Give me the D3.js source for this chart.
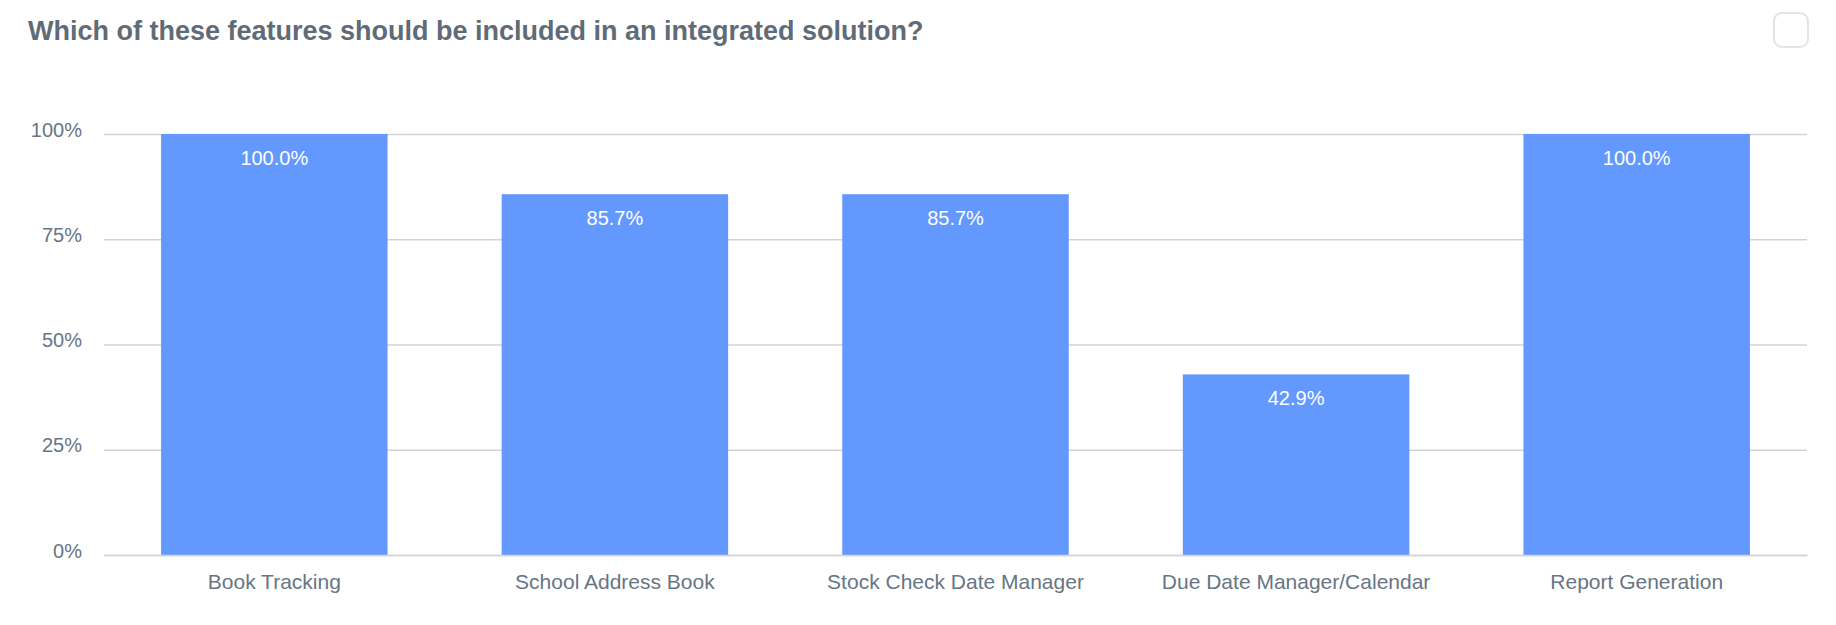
<!DOCTYPE html>
<html><head><meta charset="utf-8">
<script src="https://cdn.jsdelivr.net/npm/d3@7"></script>
<style>html,body{margin:0;padding:0;background:#fff;}svg{display:block;font-family:"Liberation Sans",Arial,sans-serif;}</style>
</head><body>
<svg id="c" width="1836" height="625"></svg>
<script>
const title = "Which of these features should be included in an integrated solution?";
const categories = ["Book Tracking","School Address Book","Stock Check Date Manager","Due Date Manager/Calendar","Report Generation"];
const values = [100.0, 85.7, 85.7, 42.9, 100.0];
const yTicks = [0, 25, 50, 75, 100];

const svg = d3.select("#c");
const m = {left:104, right:1807, top:134, bottom:555};
const x = d3.scaleBand().domain(categories).range([m.left, m.right]).paddingInner(0.335).paddingOuter(0.1675);
const y = d3.scaleLinear().domain([0,100]).range([m.bottom, m.top]);

svg.append("text").attr("x",28).attr("y",40).attr("font-size",27).attr("font-weight","bold").attr("fill","#5f6b76").text(title);
svg.append("rect").attr("x",1774).attr("y",13).attr("width",34).attr("height",34).attr("rx",8).attr("fill","none").attr("stroke","#e2e4e8").attr("stroke-width",2);

const yAxis = svg.append("g").attr("transform",`translate(${m.left},0)`)
  .call(d3.axisLeft(y).tickValues(yTicks).tickFormat(d=>d+"%").tickSize(-(m.right-m.left)).tickPadding(22));
yAxis.select(".domain").remove();
yAxis.selectAll("line").attr("stroke","#d3d3d3").attr("stroke-width",1.5);
yAxis.selectAll("text").attr("font-size",20).attr("fill","#677584").attr("font-family","Liberation Sans, Arial, sans-serif").attr("dy","2px");

svg.selectAll("rect.bar").data(values).join("rect").attr("class","bar")
  .attr("x",(d,i)=>x(categories[i])).attr("width",x.bandwidth())
  .attr("y",d=>y(d)).attr("height",d=>y(0)-y(d)).attr("fill","#6399fe");

svg.selectAll("text.val").data(values).join("text").attr("class","val")
  .attr("x",(d,i)=>x(categories[i])+x.bandwidth()/2).attr("y",d=>y(d)+31)
  .attr("text-anchor","middle").attr("font-size",20).attr("fill","#fff").text(d=>d.toFixed(1)+"%");

const xAxis = svg.append("g").attr("transform",`translate(0,${m.bottom})`)
  .call(d3.axisBottom(x).tickSize(0).tickPadding(19));
xAxis.select(".domain").attr("stroke","#d3d3d3").attr("stroke-width",1.5);
xAxis.selectAll("text").attr("font-size",21).attr("fill","#677584").attr("font-family","Liberation Sans, Arial, sans-serif");
</script>
</body></html>
